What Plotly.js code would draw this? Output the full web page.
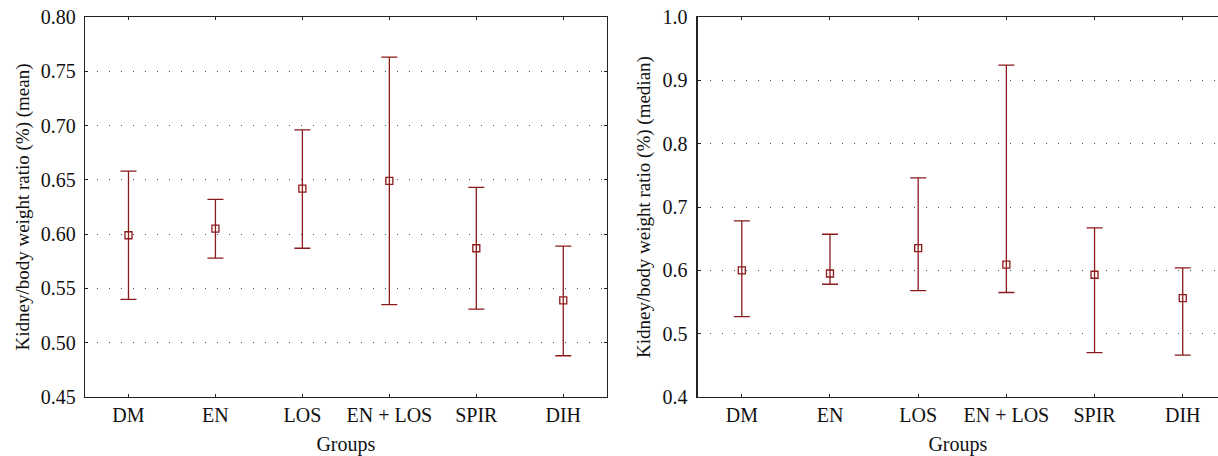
<!DOCTYPE html>
<html>
<head>
<meta charset="utf-8">
<script src="https://cdn.plot.ly/plotly-3.0.1.min.js"></script>
<style>html,body{margin:0;padding:0;background:#fff;overflow:hidden}#chart{width:1218px;height:456px}</style>
</head>
<body>
<div id="chart"></div>
<script>
const groups = ["DM", "EN", "LOS", "EN + LOS", "SPIR", "DIH"];

// Left panel: mean with interval
const meanCenter = [0.599, 0.605, 0.642, 0.649, 0.587, 0.539];
const meanUpper  = [0.658, 0.632, 0.696, 0.763, 0.643, 0.589];
const meanLower  = [0.540, 0.578, 0.587, 0.535, 0.531, 0.488];

// Right panel: median with range
const medCenter = [0.600, 0.595, 0.635, 0.609, 0.593, 0.556];
const medUpper  = [0.678, 0.657, 0.746, 0.924, 0.667, 0.604];
const medLower  = [0.527, 0.578, 0.568, 0.565, 0.470, 0.466];

const leftTicks = [0.45, 0.50, 0.55, 0.60, 0.65, 0.70, 0.75, 0.80];
const rightTicks = [0.4, 0.5, 0.6, 0.7, 0.8, 0.9, 1.0];

const red = "#8b1a1a";
const fontFam = "'Liberation Serif', 'DejaVu Serif', serif";

function trace(center, up, low, xa, ya) {
  return {
    type: "scatter", mode: "markers",
    x: groups, y: center, xaxis: xa, yaxis: ya,
    marker: {symbol: "square-open", size: 7, color: red, line: {color: red, width: 1.3}},
    error_y: {
      type: "data", symmetric: false,
      array: up.map((u, i) => u - center[i]),
      arrayminus: low.map((l, i) => center[i] - l),
      color: red, thickness: 1.3, width: 8
    },
    showlegend: false, hoverinfo: "skip"
  };
}

const axisCommon = {
  showline: true, linecolor: "#222", linewidth: 1.3,
  ticks: "inside", ticklen: 3, tickcolor: "#222", tickwidth: 1,
  zeroline: false,
  tickfont: {family: fontFam, size: 20, color: "#111"}
};
const xTitleFont = {family: fontFam, size: 20, color: "#111"};
const yTitleFont = {family: fontFam, size: 19, color: "#111"};

const layout = {
  width: 1218, height: 456,
  margin: {l: 85, r: 0, t: 17, b: 59},
  paper_bgcolor: "#fff", plot_bgcolor: "#fff",
  font: {family: fontFam, color: "#111"},
  xaxis: Object.assign({}, axisCommon, {
    domain: [0, 0.4605], type: "category", range: [-0.5, 5.5],
    mirror: "ticks", showgrid: false,
    title: {text: "Groups", font: xTitleFont, standoff: 17}
  }),
  yaxis: Object.assign({}, axisCommon, {
    domain: [0, 1], range: [0.45, 0.80], tickvals: leftTicks,
    ticktext: leftTicks.map(v => v.toFixed(2)), ticklabelstandoff: 4,
    mirror: "ticks", showgrid: true, gridcolor: "#555", gridwidth: 1, griddash: "1px,11px",
    title: {text: "Kidney/body weight ratio (%) (mean)", font: yTitleFont, standoff: 6}
  }),
  xaxis2: Object.assign({}, axisCommon, {
    domain: [0.5408, 1], type: "category", range: [-0.5, 5.4], anchor: "y2",
    mirror: "ticks", showgrid: false,
    title: {text: "Groups", font: xTitleFont, standoff: 17}
  }),
  yaxis2: Object.assign({}, axisCommon, {
    domain: [0, 1], range: [0.4, 1.0], anchor: "x2", tickvals: rightTicks,
    ticktext: rightTicks.map(v => v.toFixed(1)), ticklabelstandoff: 5,
    mirror: false, showgrid: true, gridcolor: "#555", gridwidth: 1, griddash: "1px,11px",
    title: {text: "Kidney/body weight ratio (%) (median)", font: yTitleFont, standoff: 6}
  })
};

Plotly.newPlot("chart", [
  trace(meanCenter, meanUpper, meanLower, "x", "y"),
  trace(medCenter, medUpper, medLower, "x2", "y2")
], layout, {displayModeBar: false, staticPlot: true});
</script>
</body>
</html>
